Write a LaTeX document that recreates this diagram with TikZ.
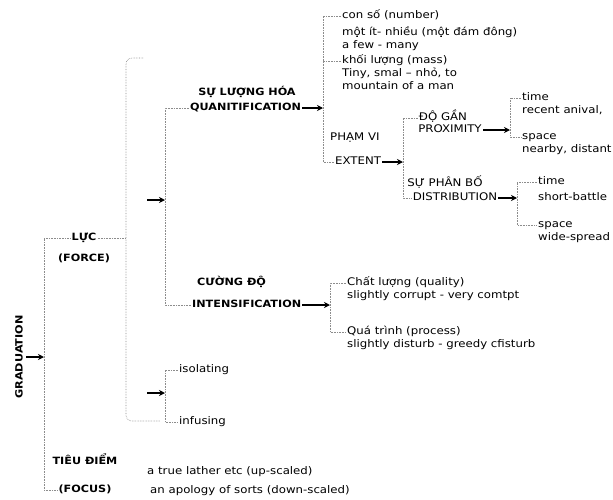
\documentclass[tikz,border=0pt]{standalone}
\usepackage{fontspec}
\setmainfont{DejaVu Sans}[FakeStretch=1.12]
\usepackage{tikz}
\usetikzlibrary{positioning,arrows.meta}

\tikzset{
  head/.style={font=\fontsize{10}{12}\selectfont\bfseries, inner sep=1pt, text height=8pt, text depth=2.5pt},
  txt/.style={inner sep=1pt, anchor=west, text height=8pt, text depth=2.5pt},
  link/.style={draw=black!45, densely dotted, line width=0.6pt},
  arr/.style={-{Stealth[length=6pt,width=6pt]}, line width=1.3pt},
}

\begin{document}
\begin{tikzpicture}[x=1pt, y=-1pt, font=\fontsize{10.5}{12}\selectfont]
    \useasboundingbox (0,0) rectangle (613,499);
    % Define nodes
    \node[head, rotate=90] (grad) at (20,357) {GRADUATION};
    \node[head] (luc) at (84,238) {LỰC};
    \node[head] (force) at (84,259) {(FORCE)};
    \node[head] (tieu) at (85,462) {TIÊU ĐIỂM};
    \node[head] (focus) at (85,490) {(FOCUS)};
    \node[txt] (upsc) at (146,472) {a true lather etc (up-scaled)};
    \node[txt] (downsc) at (149,491) {an apology of sorts (down-scaled)};

    \node[head] (quantvn) at (247,93) {SỰ LƯỢNG HÓA};
    \node[head, anchor=west] (quant) at (189,108) {QUANITIFICATION};
    \node[head, anchor=west] (intensvn) at (196,283) {CƯỜNG ĐỘ};
    \node[head, anchor=west] (intens) at (191,305) {INTENSIFICATION};
    \node[txt] (iso) at (178,370) {isolating};
    \node[txt] (inf) at (178,422) {infusing};

    \node[txt] (num) at (341,16) {con số (number)};
    \node[txt] (few) at (341,33) {một ít- nhiều (một đám đông)};
    \node[txt, below=0pt of few.south west, anchor=north west] (fewen) {a few - many};
    \node[txt] (mass) at (341,61) {khối lượng (mass)};
    \node[txt, below=0pt of mass.south west, anchor=north west] (massa) {Tiny, smal -- nhỏ, to};
    \node[txt, below=0pt of massa.south west, anchor=north west] (massb) {mountain of a man};
    \node[txt] (pham) at (329,138) {PHẠM VI};
    \node[txt] (extent) at (334,162) {EXTENT};

    \node[txt, anchor=center] (dogan) at (443,118) {ĐỘ GẦN};
    \node[txt, anchor=center] (prox) at (450,130) {PROXIMITY};
    \node[txt, anchor=center] (phanbo) at (445,184) {SỰ PHÂN BỐ};
    \node[txt, anchor=center] (distr) at (455,198) {DISTRIBUTION};

    \node[txt] (ptime) at (521,98) {time};
    \node[txt, below=0pt of ptime.south west, anchor=north west] (precent) {recent anival,};
    \node[txt] (pspace) at (521,137) {space};
    \node[txt, below=0pt of pspace.south west, anchor=north west] (pnear) {nearby, distant};

    \node[txt] (dtime) at (537,182) {time};
    \node[txt] (dshort) at (537,198) {short-battle};
    \node[txt] (dspace) at (537,225) {space};
    \node[txt, below=0pt of dspace.south west, anchor=north west] (dwide) {wide-spread};

    \node[txt] (qual) at (346,283) {Chất lượng (quality)};
    \node[txt, below=0pt of qual.south west, anchor=north west] (qualen) {slightly corrupt - very comtpt};
    \node[txt] (proc) at (346,332) {Quá trình (process)};
    \node[txt, below=0pt of proc.south west, anchor=north west] (procen) {slightly disturb - greedy cfisturb};

    % Bracket points
    \coordinate (b1) at (44,357);
    \coordinate (b2) at (126,238);
    \coordinate (b2top) at (143,58);
    \coordinate (b2bot) at (160,421);
    \coordinate (b3s) at (147,200);
    \coordinate (b3) at (165,200);
    \coordinate (b9s) at (147,393);
    \coordinate (b9) at (165,393);
    \coordinate (b4) at (330,305);
    \coordinate (b5) at (323,108);
    \coordinate (b6) at (403,162);
    \coordinate (b7) at (510,130);
    \coordinate (b8) at (517,198);

    % Draw brackets
    \draw[link] (luc) -| (b1) |- (focus);
    \draw[link] (luc) -- (b2);
    \draw[link, rounded corners=6pt] (b2top) -| (b2) |- (b2bot);
    \draw[link] (quant) -| (b3) |- (intens);
    \draw[link] (iso) -| (b9) |- (inf);
    \draw[link] (num) -| (b5) |- (extent);
    \draw[link] (mass) -- (mass -| b5);
    \draw[link] (dogan) -| (b6) |- (distr);
    \draw[link] (ptime) -| (b7) |- (pspace);
    \draw[link] (dtime) -| (b8) |- (dspace);
    \draw[link] (qual) -| (b4) |- (proc);

    % Draw arrows
    \draw[arr] (grad) -- (b1);
    \draw[arr] (b3s) -- (b3);
    \draw[arr] (b9s) -- (b9);
    \draw[arr] (quant) -- (b5);
    \draw[arr] (extent) -- (b6);
    \draw[arr] (prox) -- (b7);
    \draw[arr] (distr) -- (b8);
    \draw[arr] (intens) -- (b4);
\end{tikzpicture}
\end{document}
